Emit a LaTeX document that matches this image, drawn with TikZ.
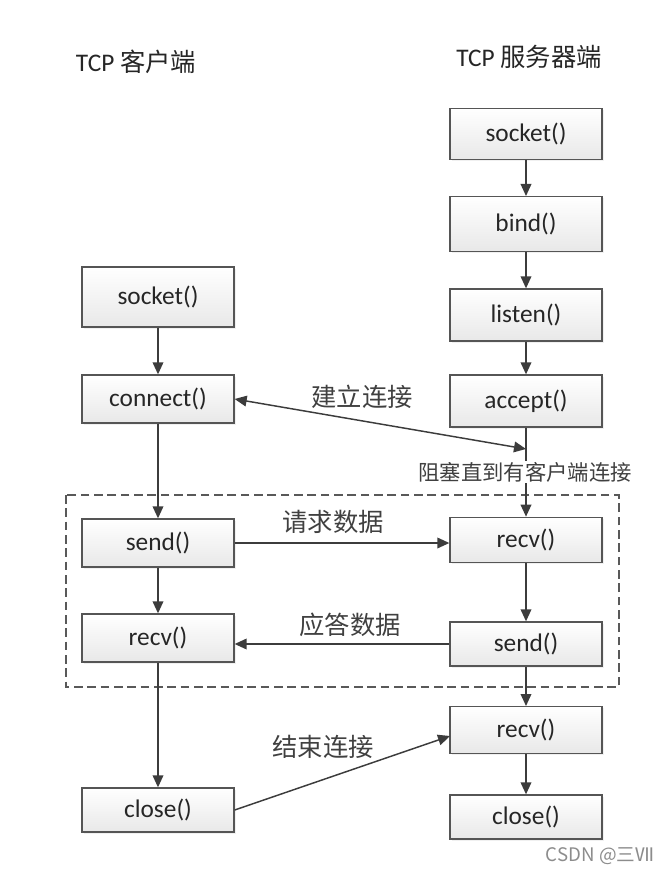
\documentclass[tikz,border=0pt]{standalone}
\usepackage{fontspec}
\usepackage{tikz}
\usetikzlibrary{arrows.meta,shadows}
\setmainfont{Carlito}
\newfontfamily\cjk{Noto Sans CJK SC}
\definecolor{linegray}{HTML}{3C3C3C}
\definecolor{boxgray}{HTML}{555555}

\begin{document}
\begin{tikzpicture}[x=0.75pt,y=-0.75pt,
    box/.style={draw=boxgray, line width=1pt, top color=white, bottom color=black!9,
      drop shadow={opacity=0.12, shadow xshift=1.2pt, shadow yshift=-1.2pt},
      minimum width=114pt, minimum height=36pt, inner sep=0pt,
      font=\fontsize{19}{22}\selectfont, text=black!85},
    flow/.style={draw=linegray, line width=1.1pt, -{Triangle[length=9pt,width=8pt]}},
    both/.style={draw=linegray, line width=1.1pt, {Triangle[length=9pt,width=8pt]}-{Triangle[length=9pt,width=8pt]}},
    lbl/.style={font=\cjk\fontsize{19}{22}\selectfont, text=black!75}]
    \useasboundingbox (0,0) rectangle (671,873);

    % titles
    \node[font=\fontsize{19}{22}\selectfont, text=black!85] (ctitle) at (136,62) {TCP {\cjk 客户端}};
    \node[font=\fontsize{19}{22}\selectfont, text=black!85] (stitle) at (529,57) {TCP {\cjk 服务器端}};

    % dashed frame around the data exchange
    \draw[black!65, line width=0.9pt, dash pattern=on 6.5pt off 3.5pt] (66,495) rectangle (619,687);

    % client side
    \node[box, minimum height=45pt] (csock) at (158,297) {socket()};
    \node[box] (cconn) at (158,399) {connect()};
    \node[box] (csend) at (158,543) {send()};
    \node[box] (crecv) at (158,638) {recv()};
    \node[box, minimum height=33pt] (cclose) at (158,810) {close()};

    % server side
    \node[box, minimum height=38pt] (ssock) at (526,134) {socket()};
    \node[box, minimum height=41pt] (sbind) at (526,224) {bind()};
    \node[box, minimum height=39pt] (slisten) at (526,315) {listen()};
    \node[box, minimum height=39pt] (saccept) at (526,401) {accept()};
    \node[box, minimum height=34pt] (srecv) at (526,540) {recv()};
    \node[box, minimum height=33pt] (ssend) at (526,644) {send()};
    \node[box, minimum height=35pt] (srecvb) at (526,730) {recv()};
    \node[box, minimum height=33pt] (sclose) at (526,817) {close()};

    \draw[flow] (csock) -- (cconn);
    \draw[flow] (cconn) -- (csend);
    \draw[flow] (csend) -- (crecv);
    \draw[flow] (crecv) -- (cclose);

    \draw[flow] (ssock) -- (sbind);
    \draw[flow] (sbind) -- (slisten);
    \draw[flow] (slisten) -- (saccept);
    \draw[flow] (saccept) -- (srecv);
    \draw[flow] (srecv) -- (ssend);
    \draw[flow] (ssend) -- (srecvb);
    \draw[flow] (srecvb) -- (sclose);

    % connection, requests and answers
    \coordinate (waitpt) at (526,449);
    \draw[both] (cconn.east) -- (waitpt);
    \node[lbl] (connlbl) at (362,397) {建立连接};
    \node[lbl, font=\cjk\fontsize{16}{18}\selectfont, fill=white, inner sep=1pt] (waitlbl) at (525,472) {阻塞直到有客户端连接};

    \draw[flow] (csend.east) -- (csend.east -| srecv.west);
    \node[lbl] (reqlbl) at (333,522) {请求数据};

    \draw[flow] (ssend.west) -- (ssend.west -| crecv.east);
    \node[lbl] (anslbl) at (350,625) {应答数据};

    \coordinate (finpt) at (450,736);
    \draw[flow] (cclose.east) -- (finpt);
    \node[lbl] (finlbl) at (323,747) {结束连接};

    \node[font=\cjk\fontsize{14}{16}\selectfont, text=black!45] (mark) at (600,856) {CSDN @三Ⅶ};
\end{tikzpicture}
\end{document}
